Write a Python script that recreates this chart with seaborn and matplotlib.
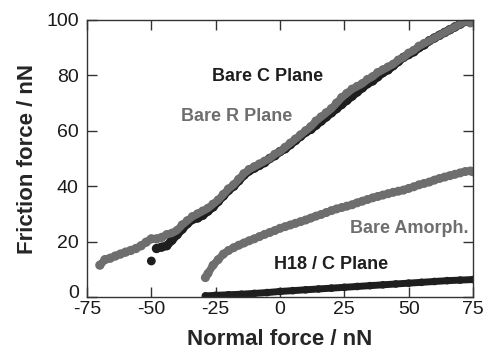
import matplotlib
matplotlib.use("Agg")
import matplotlib.pyplot as plt
import matplotlib.transforms as mtransforms
import seaborn as sns
import pandas as pd

# ---- data ----
r_x = [-70, -68, -66, -64, -62, -60, -58, -56, -54, -52, -50, -48, -46, -44, -42, -40,
       -38, -36, -34, -32, -30, -28, -26, -24, -22, -20, -18, -16, -14, -12, -10, -8,
       -6, -4, -2, 0, 2, 4, 6, 8, 10, 12, 14, 16, 18, 20, 22, 24, 26, 28, 30, 32, 34,
       36, 38, 40, 42, 44, 46, 48, 50, 52, 54, 56, 58, 60, 62, 64, 66, 68, 70, 72, 74]
r_y = [11.5, 13.5, 14, 14.8, 15.5, 16.2, 16.8, 17.5, 18.5, 19.8, 21, 21, 21.5, 22.5, 23, 24,
       26, 27.5, 29, 30, 31, 32, 33.5, 35, 37, 39, 40.5, 42.5, 44.5, 46, 47, 48,
       49, 50, 51.5, 52.5, 54, 55.5, 57, 58.5, 60, 61.5, 63.5, 65, 66.5, 68, 70, 72, 73.5, 75, 76, 77, 78.5,
       79.5, 81, 82, 83, 84, 85.5, 86.5, 88, 89, 90.5, 91.5, 92.5, 93.5, 94.5, 95.5, 96.5, 97.5, 98.5, 99.5, 99]

c_x = [-48, -46, -44, -42, -40, -38, -36, -34, -32, -30, -28, -26, -24, -22, -20, -18, -16,
       -14, -12, -10, -8, -6, -4, -2, 0, 2, 4, 6, 8, 10, 12, 14, 16, 18, 20, 22, 24, 26,
       28, 30, 32, 34, 36, 38, 40, 42, 44, 46, 48, 50, 52, 54, 56, 58, 60, 62, 64, 66,
       68, 70, 72, 74]
c_y = [17.5, 18, 18.5, 20.5, 22.5, 24.5, 26.5, 28, 28.5, 29.5, 31, 32.5, 34.5, 36.5, 38.5, 40, 42,
       44, 45.5, 46.5, 47.5, 48.5, 50, 51, 52.5, 53.5, 55, 56.5, 58, 59.5, 60.5, 62, 63.5, 65, 66.5, 68, 69.5, 71,
       72.5, 74, 75.5, 77, 78, 79.5, 81, 82, 83.5, 85, 86.5, 87.5, 88.5, 90, 91, 92.5, 93.5, 94.5, 95.5, 96.5,
       97.5, 98.5, 99.5, 99.5]
c_out_x = [-50]
c_out_y = [13]

a_x = [-29, -28, -26, -24, -22, -20, -18, -16, -14, -12, -10, -8, -6, -4, -2, 0, 2, 4, 6, 8,
       10, 12, 14, 16, 18, 20, 22, 24, 26, 28, 30, 32, 34, 36, 38, 40, 42, 44, 46, 48, 50,
       52, 54, 56, 58, 60, 62, 64, 66, 68, 70, 72, 74, 75]
a_y = [7, 8.5, 11.5, 13.5, 15.5, 16.8, 17.8, 18.7, 19.5, 20.3, 21, 21.8, 22.6, 23.3, 24, 24.8, 25.4, 26, 26.6, 27.2,
       27.8, 28.5, 29.2, 29.8, 30.5, 31.2, 31.8, 32.3, 32.8, 33.3, 34, 34.6, 35.2, 35.8, 36.3, 36.8, 37.3, 37.8, 38.2, 38.6, 39.2,
       39.8, 40.5, 41, 41.5, 42.2, 42.8, 43.3, 43.8, 44.3, 44.8, 45.3, 45.5, 45.2]

h_x = [-29, -25, -20, -15, -10, -5, 0, 5, 10, 15, 20, 25, 30, 35, 40, 45, 50, 55, 60, 65, 70, 75]
h_y = [0.4, 0.6, 0.8, 1.0, 1.3, 1.6, 2.0, 2.3, 2.6, 2.9, 3.2, 3.5, 3.8, 4.1, 4.4, 4.7, 5.0, 5.3, 5.6, 5.9, 6.1, 6.3]

labels = ["Bare C Plane", "Bare R Plane", "Bare Amorph.", "H18 / C Plane"]
xticks = [-75, -50, -25, 0, 25, 50, 75]
yticks = [0, 20, 40, 60, 80, 100]

GRAY = "#6e6e6e"
BLACK = "#1e1e1e"

sns.set_style("ticks")
plt.rcParams['font.family'] = ['Liberation Sans', 'DejaVu Sans']
plt.rcParams['axes.unicode_minus'] = False

fig = plt.figure(figsize=(4.83, 3.52), dpi=100)
ax = fig.add_axes([87/483, 1 - 297/352, 386/483, 277/352])

def band(xs, ys, color, lw, ms):
    df = pd.DataFrame({"x": xs, "y": ys})
    sns.lineplot(data=df, x="x", y="y", ax=ax, color=color, lw=lw, solid_capstyle="round",
                 sort=False, estimator=None)
    sns.scatterplot(data=df, x="x", y="y", ax=ax, color=color, s=ms, edgecolor="none")

band(h_x, h_y, BLACK, 5, 30)
band(c_x, c_y, BLACK, 6, 45)
sns.scatterplot(x=c_out_x, y=c_out_y, ax=ax, color=BLACK, s=40, edgecolor="none")
band(r_x, r_y, GRAY, 5.5, 45)
band(a_x, a_y, GRAY, 5.5, 42)

ax.set_xlim(-75, 75)
ax.set_ylim(0, 100)
ax.set_xticks(xticks)
ax.set_yticks(yticks)
ax.tick_params(direction="in", top=True, right=True, length=7, width=1, labelsize=14,
               colors="#333333", labelcolor="#1a1a1a")
ax.tick_params(axis="x", pad=3)
ax.tick_params(axis="y", pad=6)
for s in ax.spines.values():
    s.set_linewidth(1)
    s.set_color("#333333")
ax.set_xlabel("Normal force / nN", fontsize=16, fontweight="bold", labelpad=8)
ax.set_ylabel("Friction force / nN", fontsize=16, fontweight="bold", labelpad=6)

# nudge the bottom y tick label ("0") slightly upward, as in the reference
fig.canvas.draw()
ylabs = ax.get_yticklabels()
ylabs[0].set_transform(ylabs[0].get_transform() +
                       mtransforms.ScaledTranslation(0, 5/100, fig.dpi_scale_trans))

ax.text(-5, 79.6, labels[0], color=BLACK, fontsize=13, fontweight="bold", ha="center", va="center")
ax.text(-16.8, 65.2, labels[1], color=GRAY, fontsize=13, fontweight="bold", ha="center", va="center")
ax.text(50.1, 24.9, labels[2], color=GRAY, fontsize=13, fontweight="bold", ha="center", va="center")
ax.text(20.0, 11.9, labels[3], color=BLACK, fontsize=13, fontweight="bold", ha="center", va="center")

fig.savefig("out.png", dpi=100)
